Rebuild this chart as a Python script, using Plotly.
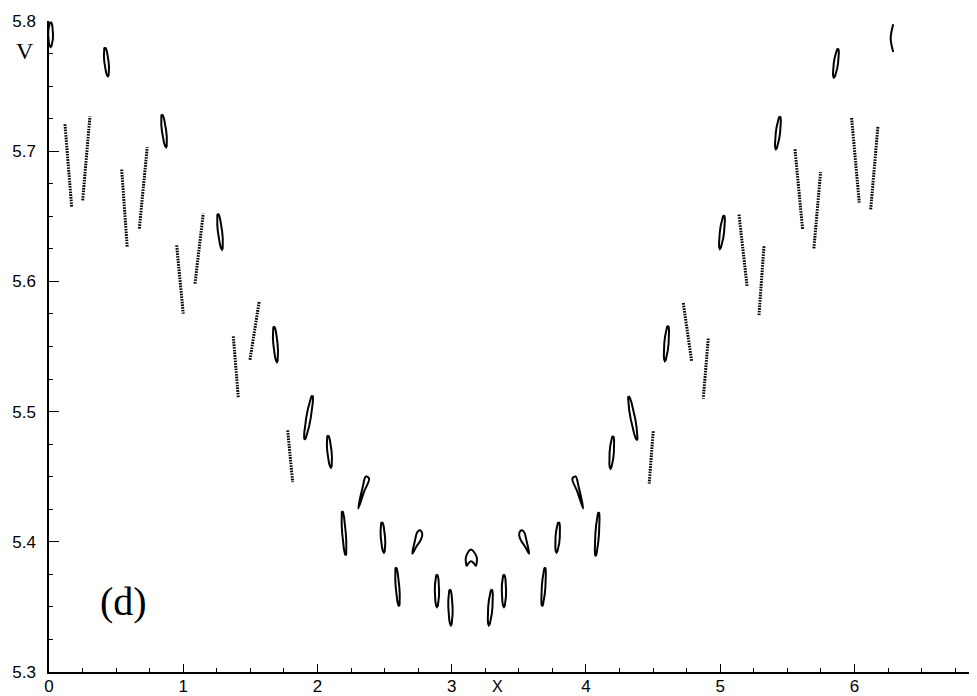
import math
import plotly.graph_objects as go

# ---------------- data ----------------
# Oval islands: top point, bottom point and half width (all in data units)
oval_top_x = [0.012, 0.417, 0.842, 1.259, 1.676, 1.962, 2.078, 2.185, 2.480, 2.585, 2.890, 2.987,
              3.298, 3.389, 3.695, 3.797, 4.095, 4.201, 4.318, 4.611, 5.028, 5.445, 5.877]
oval_top_v = [5.7992, 5.7798, 5.7283, 5.6521, 5.5655, 5.5125, 5.4818, 5.4237, 5.4152, 5.3804, 5.3750, 5.3635,
              5.3635, 5.3750, 5.3804, 5.4152, 5.4229, 5.4813, 5.5120, 5.5660, 5.6508, 5.7268, 5.7788]
oval_bot_x = [0.012, 0.439, 0.872, 1.289, 1.698, 1.905, 2.100, 2.210, 2.495, 2.607, 2.890, 2.994,
              3.277, 3.389, 3.674, 3.781, 4.072, 4.183, 4.380, 4.588, 4.998, 5.415, 5.847]
oval_bot_v = [5.7800, 5.7575, 5.7030, 5.6244, 5.5381, 5.4785, 5.4570, 5.3896, 5.3917, 5.3505, 5.3499, 5.3359,
              5.3359, 5.3499, 5.3505, 5.3917, 5.3890, 5.4562, 5.4780, 5.5388, 5.6250, 5.7015, 5.7565]
oval_half_w = [0.018, 0.016, 0.016, 0.016, 0.016, 0.017, 0.016, 0.0135, 0.016, 0.0135, 0.016, 0.016,
               0.016, 0.016, 0.0135, 0.016, 0.0135, 0.016, 0.017, 0.016, 0.016, 0.016, 0.016]

# Tear-drop / comma shaped islands (closed, start and end at the tail)
drop_x = [
    [2.304, 2.337, 2.360, 2.384, 2.346, 2.304],
    [2.706, 2.724, 2.742, 2.760, 2.780, 2.772, 2.735, 2.706],
    [3.577, 3.559, 3.541, 3.523, 3.503, 3.511, 3.548, 3.577],
    [3.979, 3.946, 3.923, 3.899, 3.937, 3.979],
]
drop_v = [
    [5.4255, 5.4421, 5.4502, 5.4485, 5.4382, 5.4255],
    [5.3909, 5.4000, 5.4072, 5.4088, 5.4065, 5.4020, 5.3960, 5.3909],
    [5.3909, 5.4000, 5.4072, 5.4088, 5.4065, 5.4020, 5.3960, 5.3909],
    [5.4255, 5.4421, 5.4502, 5.4485, 5.4382, 5.4255],
]

# Arch island at x = pi (dome and inner notch), and open arc at x = 2 pi
arch_dome_x = [3.111, 3.106, 3.143, 3.186, 3.181]
arch_dome_v = [5.3812, 5.3883, 5.3940, 5.3883, 5.3812]
arch_notch_x = [3.181, 3.143, 3.111]
arch_notch_v = [5.3812, 5.3850, 5.3812]
arc_x = [6.289, 6.270, 6.289]
arc_v = [5.7975, 5.7865, 5.7762]

# Dotted streaks: start (x0, v0) -> end (x1, v1)
streak_x0 = [0.119, 0.251, 0.5415, 0.673, 0.951, 1.0875, 1.373, 1.497, 1.778,
             4.501, 4.725, 4.911, 5.140, 5.326, 5.557, 5.698, 5.979, 6.121]
streak_v0 = [5.7207, 5.6623, 5.6859, 5.6406, 5.6277, 5.5983, 5.5578, 5.5399, 5.4856,
             5.4849, 5.5834, 5.5561, 5.6513, 5.6270, 5.7015, 5.6254, 5.7255, 5.6554]
streak_x1 = [0.169, 0.305, 0.583, 0.732, 1.000, 1.149, 1.410, 1.566, 1.815,
             4.471, 4.787, 4.874, 5.201, 5.289, 5.614, 5.748, 6.036, 6.175]
streak_v1 = [5.6571, 5.7268, 5.6260, 5.7032, 5.5753, 5.6521, 5.5112, 5.5847, 5.4459,
             5.4447, 5.5389, 5.5100, 5.5957, 5.5740, 5.6398, 5.6840, 5.6605, 5.7191]

x_tick_vals = [0, 1, 2, 3, 4, 5, 6]
y_tick_vals = [5.3, 5.4, 5.5, 5.6, 5.7, 5.8]


# ---------------- build traces ----------------
def oval_outline(xt, vt, xb, vb, hw, n=16):
    """Closed outline of an elongated oval whose long axis runs from top to bottom."""
    xs, vs = [], []
    for k in range(n + 1):
        th = 2 * math.pi * k / n
        f = (1 - math.cos(th)) / 2
        xs.append(xt + f * (xb - xt) + hw * math.sin(th))
        vs.append(vt + f * (vb - vt))
    return xs, vs


cx, cy = [], []
for xt, vt, xb, vb, hw in zip(oval_top_x, oval_top_v, oval_bot_x, oval_bot_v, oval_half_w):
    xs, vs = oval_outline(xt, vt, xb, vb, hw)
    cx += xs + [None]
    cy += vs + [None]

dx, dy = [], []
for xs, vs in zip(drop_x, drop_v):
    dx += xs + [None]
    dy += vs + [None]
for xs, vs in ((arch_dome_x, arch_dome_v), (arch_notch_x, arch_notch_v), (arc_x, arc_v)):
    dx += xs + [None]
    dy += vs + [None]

sx, sy = [], []
for a, b, c, d in zip(streak_x0, streak_v0, streak_x1, streak_v1):
    sx += [a, c, None]
    sy += [b, d, None]

fig = go.Figure()
fig.add_trace(go.Scatter(x=cx, y=cy, mode="lines",
                         line=dict(color="black", width=2.0),
                         hoverinfo="skip", showlegend=False))
fig.add_trace(go.Scatter(x=dx, y=dy, mode="lines",
                         line=dict(color="black", width=2.0, shape="spline", smoothing=1.0),
                         hoverinfo="skip", showlegend=False))
fig.add_trace(go.Scatter(x=sx, y=sy, mode="lines",
                         line=dict(color="black", width=3.0, dash="1.6px,1.1px"),
                         hoverinfo="skip", showlegend=False))

tickfont = dict(family="Liberation Sans, Arial, sans-serif", size=17, color="black")
fig.update_xaxes(range=[0, 6.913], showline=True, linecolor="black", linewidth=1.5,
                 ticks="inside", ticklen=8, tickwidth=1, tickcolor="black",
                 tickvals=x_tick_vals, ticktext=[str(t) for t in x_tick_vals],
                 minor=dict(dtick=0.25, tick0=0, ticks="inside", ticklen=4, tickcolor="black", tickwidth=1),
                 showgrid=False, zeroline=False, tickfont=tickfont, automargin=False,
                 ticklabelstandoff=-2)
fig.update_yaxes(range=[5.3, 5.8], showline=True, linecolor="black", linewidth=1.5,
                 ticks="inside", ticklen=10, tickwidth=1, tickcolor="black",
                 tickvals=y_tick_vals, ticktext=[f"{t:.1f}" for t in y_tick_vals],
                 minor=dict(dtick=0.025, tick0=5.3, ticks="inside", ticklen=4, tickcolor="black", tickwidth=1),
                 showgrid=False, zeroline=False, tickfont=tickfont, automargin=False,
                 ticklabelstandoff=8)

fig.add_annotation(text="V", xref="paper", yref="paper", x=-0.026, y=0.9535,
                   showarrow=False, xanchor="center", yanchor="middle",
                   font=dict(family="Liberation Serif, Times New Roman, serif", size=24, color="black"))
fig.add_annotation(text="(d)", xref="paper", yref="paper", x=0.0808, y=0.1086,
                   showarrow=False, xanchor="center", yanchor="middle",
                   font=dict(family="Liberation Serif, Times New Roman, serif", size=40, color="black"))
fig.add_annotation(text="X", xref="x", yref="paper", x=3.34, y=-0.006,
                   showarrow=False, xanchor="center", yanchor="top",
                   font=dict(family="Liberation Sans, Arial, sans-serif", size=16, color="black"))

# the page body adds an 8px offset, so the margins are shifted by that amount
fig.update_layout(width=977, height=696, template="none",
                  margin=dict(l=41, r=8, t=13, b=32),
                  paper_bgcolor="white", plot_bgcolor="white", showlegend=False)

fig.write_html("out.html")
